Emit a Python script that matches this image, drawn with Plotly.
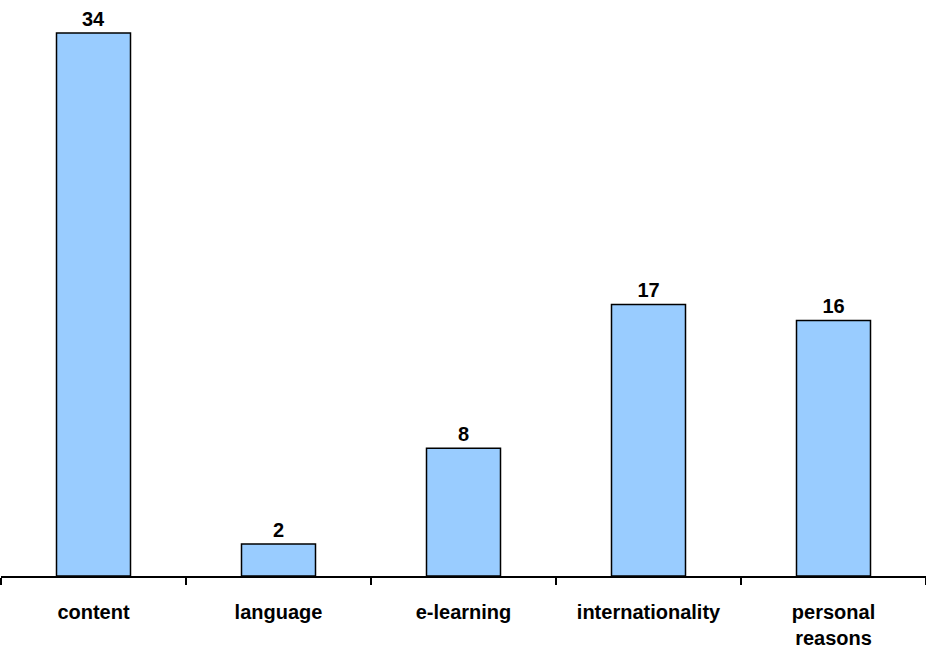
import plotly.graph_objects as go

categories = ["content", "language", "e-learning", "internationality", "personal<br>reasons"]
counts = [34, 2, 8, 17, 16]

fig = go.Figure(go.Bar(
    x=categories,
    y=counts,
    text=counts,
    textposition="outside",
    cliponaxis=False,
    textfont=dict(family="Liberation Sans", size=20, color="black"),
    marker=dict(color="#99CCFF", line=dict(color="black", width=1.5)),
))

fig.update_layout(
    width=926, height=648,
    margin=dict(l=1, r=0, t=17, b=72),
    plot_bgcolor="white", paper_bgcolor="white",
    bargap=0.6,
    showlegend=False,
    font=dict(family="Liberation Sans", size=20, color="black"),
    xaxis=dict(showline=True, linecolor="black", linewidth=1.5, automargin=False,
               ticks="outside", tickson="boundaries", ticklen=7, tickcolor="black",
               tickwidth=1.5, ticklabelstandoff=17,
               tickfont=dict(family="Liberation Sans", size=20, weight="bold")),
    yaxis=dict(range=[0, 35], visible=False, showgrid=False, automargin=False),
    uniformtext=dict(minsize=1),
)
fig.update_traces(texttemplate="<b>%{text}</b>")

# drop the default page margin so the chart sits at the window's corner
fig.write_html("out.html", config={"displayModeBar": False},
               post_script="document.body.style.margin='0';")
